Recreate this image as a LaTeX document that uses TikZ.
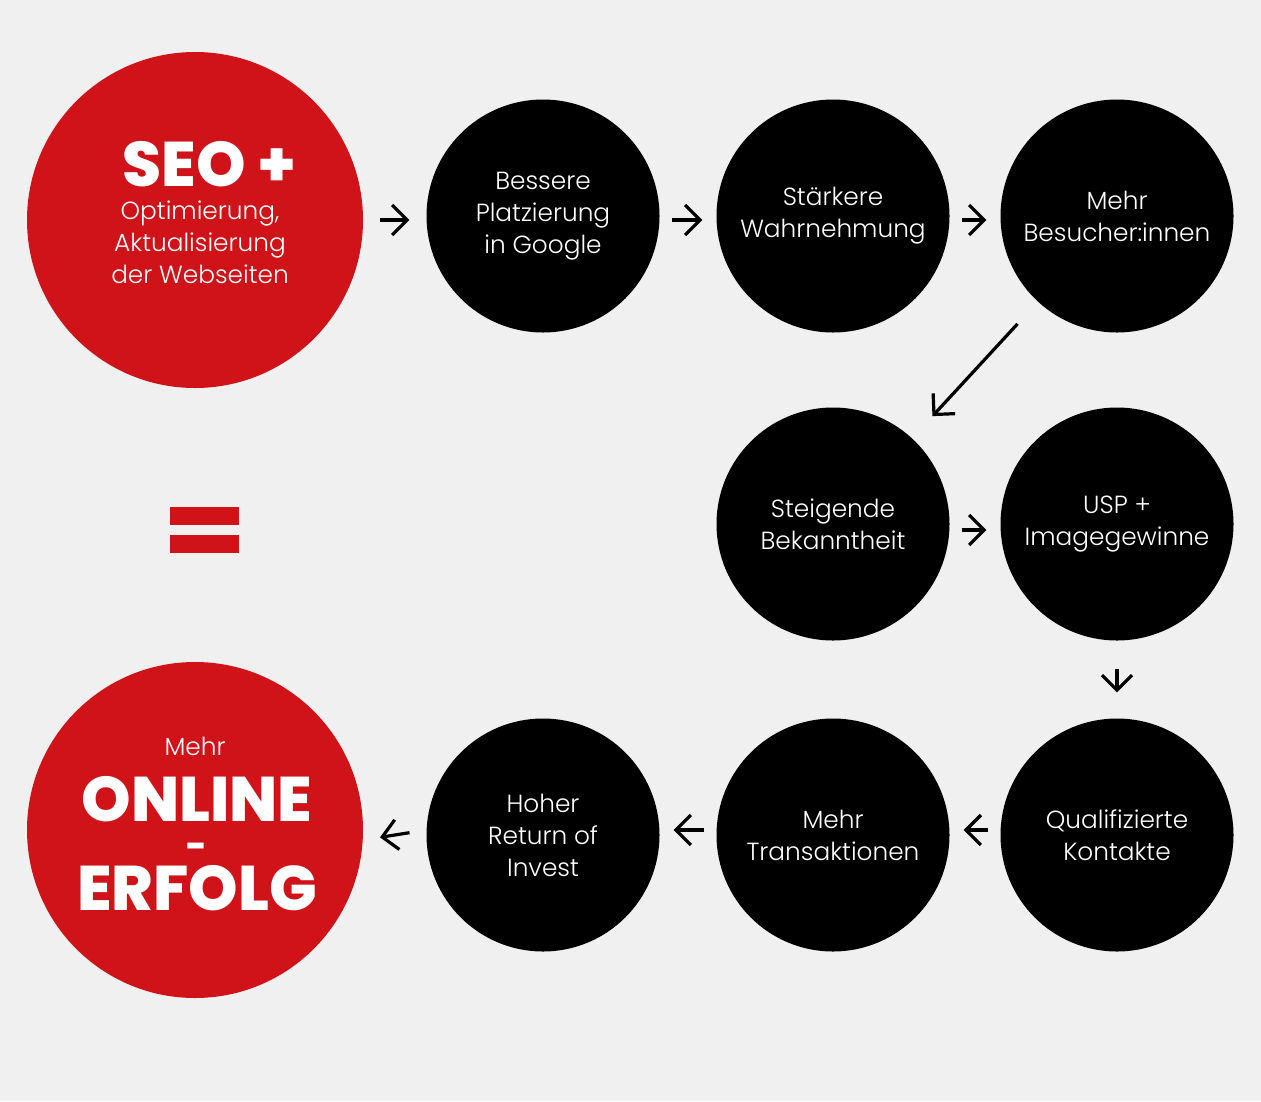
\documentclass[tikz,border=0pt]{standalone}
\usepackage{fontspec}
\setmainfont{Poppins}[UprightFont=* Light, BoldFont=* ExtraBold]
\usetikzlibrary{arrows.meta}
\definecolor{bg}{HTML}{F0F0F0}
\definecolor{seored}{HTML}{D01318}
\begin{document}
\begin{tikzpicture}[x=1pt,y=-1pt,
  redc/.style={circle,fill=seored,minimum size=336pt,inner sep=0pt,text=white,align=center},
  blackc/.style={circle,fill=black,minimum size=233pt,inner sep=0pt,text=white,align=center,font=\fontsize{24.8}{32}\selectfont},
  wtext/.style={text=white,inner sep=0pt},
  bigtext/.style={wtext,font=\fontsize{63}{63}\bfseries,text height=44pt,text depth=0pt},
  conn/.style={line width=3.2pt,-{Straight Barb[length=15pt,width=30pt]}},
  eqbar/.style={fill=seored}]
\fill[bg] (0,0) rectangle (1261,1101);
\useasboundingbox (0,0) rectangle (1261,1101);

\node[redc] (seo) at (195,220) {};
\node[bigtext] (seot) at (209,164) {SEO +};
\node[wtext,align=center,font=\fontsize{24.8}{32}\selectfont] (seob) at (200,242) {Optimierung,\\Aktualisierung\\der Webseiten};

\node[redc] (erf) at (195,830) {};
\node[wtext,font=\fontsize{24.8}{24}\selectfont] (mehr) at (195,746) {Mehr};
\node[bigtext] (onl) at (197,799) {ONLINE};
\node[wtext,font=\fontsize{36}{36}\bfseries,text height=22pt,text depth=0pt] (hyph) at (197,847) {-};
\node[bigtext] (erfl) at (197,888) {ERFOLG};

\node[blackc] (b1) at (543,216) {Bessere\\Platzierung\\in Google};
\node[blackc] (b2) at (833,216) {Stärkere\\Wahrnehmung};
\node[blackc] (b3) at (1117,216) {Mehr\\Besucher:innen};
\node[blackc] (b4) at (833,524) {Steigende\\Bekanntheit};
\node[blackc] (b5) at (1117,524) {USP +\\Imagegewinne};
\node[blackc] (b6) at (1117,835) {Qualifizierte\\Kontakte};
\node[blackc] (b7) at (833,835) {Mehr\\Transaktionen};
\node[blackc] (b8) at (543,835) {Hoher\\Return of\\Invest};

\fill[eqbar] (170,507) rectangle (239,525);
\fill[eqbar] (170,535) rectangle (239,553);

\draw[conn,shorten <=17pt,shorten >=17pt] (seo.east |- 0,220) -- (b1.west |- 0,220);
\draw[conn,shorten <=12pt,shorten >=14pt] (b1.east |- 0,220) -- (b2.west |- 0,220);
\draw[conn,shorten <=12pt,shorten >=14pt] ([yshift=-4pt]b2.east) -- ([yshift=-4pt]b3.west);
\draw[conn,shorten <=12pt,shorten >=14pt] ([yshift=-6pt]b4.east) -- ([yshift=-6pt]b5.west);
\draw[conn,shorten <=30pt,shorten >=30pt] (b3) -- (b4);
\draw[conn,shorten <=28pt,shorten >=26pt] (b5) -- (b6);
\draw[conn,shorten <=12pt,shorten >=14pt] ([yshift=5pt]b6.west) -- ([yshift=5pt]b7.east);
\draw[conn,shorten <=12pt,shorten >=14pt] ([yshift=5pt]b7.west) -- ([yshift=5pt]b8.east);
\draw[conn,shorten <=17pt,shorten >=17pt] ([yshift=5pt]b8.west) -- (erf.east |- 0,840);
\end{tikzpicture}
\end{document}
